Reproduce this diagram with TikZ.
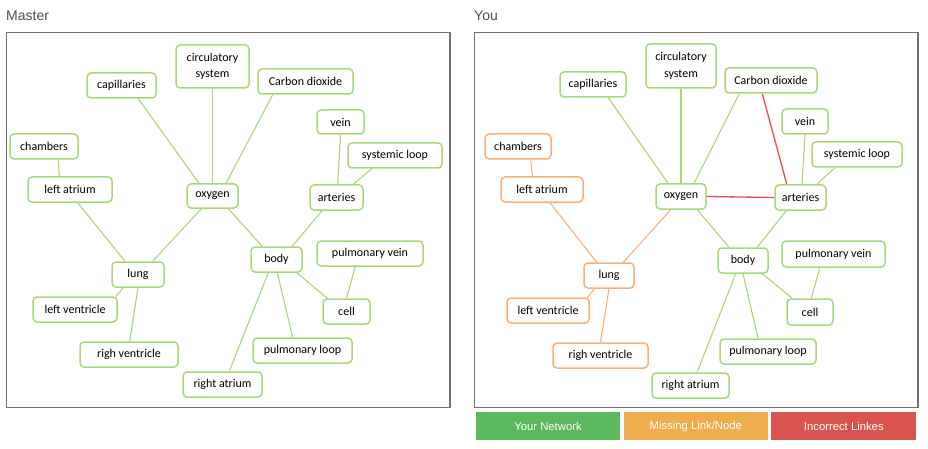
\documentclass[tikz,border=0pt]{standalone}
\usepackage{fontspec}
\setmainfont{Liberation Sans}
\newfontfamily\carl{Carlito}
\definecolor{ngreen}{HTML}{A5D978}
\definecolor{norange}{HTML}{F8B07A}
\definecolor{nred}{HTML}{EE4A4A}
\definecolor{frame}{HTML}{707070}
\definecolor{ttl}{HTML}{505050}
\definecolor{bgreen}{HTML}{5CB85C}
\definecolor{borange}{HTML}{F0AD4E}
\definecolor{bred}{HTML}{D9534F}
\tikzset{
  nd/.style={draw=ngreen, line width=1.5pt, rounded corners=4pt, fill=white,
    font=\carl\fontsize{12}{16.5}\selectfont, inner sep=0pt, align=center,
    minimum height=25pt, text=black},
  ndo/.style={nd, draw=norange},
  eg/.style={draw=ngreen, line width=1.1pt},
  eo/.style={draw=norange, line width=1.1pt},
  er/.style={draw=nred, line width=1.3pt},
  panel/.style={draw=frame, line width=1.2pt},
  ttlstyle/.style={font=\fontsize{14}{16}\selectfont, text=ttl, anchor=base west, inner sep=0pt},
  btn/.style={draw=none, text=white, font=\fontsize{11.3}{13}\selectfont, inner sep=0pt,
    minimum height=27.7pt}
}
\begin{document}
\begin{tikzpicture}[x=1pt,y=-1pt]
\useasboundingbox[fill=white] (0,0) rectangle (928,449);
% titles
\node[ttlstyle] (tmaster) at (6,21) {Master};
\node[ttlstyle] (tyou) at (474,21) {You};
% panels
\draw[panel] (6.3,32.5) rectangle (450,407.3);
\draw[panel] (474.3,32.7) rectangle (918,407.3);

% ---------- Master ----------
\node[nd,minimum width=69pt] (Lcap) at (121.5,85.5) {capillaries};
\node[nd,minimum width=73pt,minimum height=43pt] (Lcirc) at (212.5,66.5) {circulatory\\system};
\node[nd,minimum width=95pt] (Lco2) at (305.5,81.5) {Carbon dioxide};
\node[nd,minimum width=47pt,minimum height=24pt] (Lvein) at (340.5,122) {vein};
\node[nd,minimum width=94pt] (Lsys) at (395,155.5) {systemic loop};
\node[nd,minimum width=68pt] (Lcham) at (44,146.5) {chambers};
\node[nd,minimum width=84pt] (Llatr) at (70,189.5) {left atrium};
\node[nd,minimum width=51pt,minimum height=24pt] (Loxy) at (212.5,196) {oxygen};
\node[nd,minimum width=53pt] (Lart) at (336.5,197.5) {arteries};
\node[nd,minimum width=51pt] (Lbody) at (276.5,259.5) {body};
\node[nd,minimum width=106pt] (Lpv) at (370,253.5) {pulmonary vein};
\node[nd,minimum width=52pt] (Llung) at (138,274.5) {lung};
\node[nd,minimum width=84pt] (Llv) at (75,309.5) {left ventricle};
\node[nd,minimum width=47pt] (Lcell) at (346.5,311.5) {cell};
\node[nd,minimum width=98pt] (Lrv) at (129,354.5) {righ ventricle};
\node[nd,minimum width=99pt] (Lpl) at (302.5,350.5) {pulmonary loop};
\node[nd,minimum width=79pt] (Lra) at (222.5,384.5) {right atrium};

\draw[eg] ([xshift=16.8pt]Lcap.south) -- ([xshift=-13.5pt]Loxy.north);
\draw[eg] (Lcirc.south) -- (Loxy.north);
\draw[eg] ([xshift=-32.8pt]Lco2.south) -- ([xshift=13.5pt]Loxy.north);
\draw[eg] (Lvein.south) -- ([xshift=1.2pt]Lart.north);
\draw[eg] ([xshift=-23.3pt]Lsys.south) -- ([xshift=16.8pt]Lart.north);
\draw[eg] ([xshift=14.3pt]Lcham.south) -- ([xshift=-10.7pt]Llatr.north);
\draw[eg] ([xshift=7.7pt]Llatr.south) -- ([xshift=-13pt]Llung.north);
\draw[eg] ([xshift=-11.2pt]Loxy.south) -- ([xshift=14.7pt]Llung.north);
\draw[eg] ([xshift=15.8pt]Loxy.south) -- ([xshift=-14.2pt]Lbody.north);
\draw[eg] ([xshift=-14.5pt]Lart.south) -- ([xshift=15.8pt]Lbody.north);
\draw[eg] ([xshift=-14.7pt]Llung.south) -- ([xshift=41pt]Llv.north);
\draw[eg] (Llung.south) -- ([xshift=0.7pt]Lrv.north);
\draw[eg] ([xshift=-8.2pt]Lbody.south) -- ([xshift=6.8pt]Lra.north);
\draw[eg] ([xshift=0.8pt]Lbody.south) -- ([xshift=-9.8pt]Lpl.north);
\draw[eg] ([xshift=20.2pt]Lbody.south) -- ([xshift=-19.2pt]Lcell.north);
\draw[eg] ([xshift=-14.7pt]Lpv.south) -- (Lcell.north);

% ---------- You ----------
\node[nd,minimum width=66pt] (Rcap) at (593,84.5) {capillaries};
\node[nd,minimum width=70pt,minimum height=44pt] (Rcirc) at (681,66) {circulatory\\system};
\node[nd,minimum width=92pt] (Rco2) at (771,80.5) {Carbon dioxide};
\node[nd,minimum width=46pt] (Rvein) at (805,121.5) {vein};
\node[nd,minimum width=90pt] (Rsys) at (857,154.5) {systemic loop};
\node[ndo,minimum width=66pt] (Rcham) at (518,146.5) {chambers};
\node[ndo,minimum width=82pt] (Rlatr) at (542,189.5) {left atrium};
\node[nd,minimum width=50pt] (Roxy) at (681,196.5) {oxygen};
\node[nd,minimum width=51pt] (Rart) at (800.5,197.5) {arteries};
\node[nd,minimum width=50pt] (Rbody) at (743,260.5) {body};
\node[nd,minimum width=103pt,minimum height=26pt] (Rpv) at (833.5,254) {pulmonary vein};
\node[ndo,minimum width=50pt] (Rlung) at (609,275.5) {lung};
\node[ndo,minimum width=82pt] (Rlv) at (548,310.5) {left ventricle};
\node[nd,minimum width=46pt,minimum height=26pt] (Rcell) at (810,312) {cell};
\node[ndo,minimum width=95pt] (Rrv) at (600.5,355.5) {righ ventricle};
\node[nd,minimum width=96pt] (Rpl) at (768,351.5) {pulmonary loop};
\node[nd,minimum width=77pt] (Rra) at (690.5,385.5) {right atrium};

\draw[eg] ([xshift=15.3pt]Rcap.south) -- ([xshift=-13pt]Roxy.north);
\draw[eg] (Rcirc.south) -- (Roxy.north);
\draw[eg] ([xshift=-31.7pt]Rco2.south) -- ([xshift=13pt]Roxy.north);
\draw[er] ([xshift=-8.7pt]Rco2.south) -- ([xshift=-13.7pt]Rart.north);
\draw[er] (Roxy.east) -- (Rart.west);
\draw[eg] (Rvein.south) -- ([xshift=1.5pt]Rart.north);
\draw[eg] ([xshift=-22pt]Rsys.south) -- ([xshift=16.3pt]Rart.north);
\draw[eo] ([xshift=12.7pt]Rcham.south) -- ([xshift=-9.7pt]Rlatr.north);
\draw[eo] ([xshift=8pt]Rlatr.south) -- ([xshift=-12.3pt]Rlung.north);
\draw[eo] ([xshift=-10.3pt]Roxy.south) -- ([xshift=14.3pt]Rlung.north);
\draw[eg] ([xshift=16.3pt]Roxy.south) -- ([xshift=-14pt]Rbody.north);
\draw[eg] ([xshift=-14.3pt]Rart.south) -- ([xshift=14.3pt]Rbody.north);
\draw[eo] ([xshift=-14.3pt]Rlung.south) -- ([xshift=39.3pt]Rlv.north);
\draw[eo] (Rlung.south) -- (Rrv.north);
\draw[eg] ([xshift=-7.3pt]Rbody.south) -- ([xshift=6.7pt]Rra.north);
\draw[eg] (Rbody.south) -- ([xshift=-10pt]Rpl.north);
\draw[eg] ([xshift=19.3pt]Rbody.south) -- ([xshift=-17.7pt]Rcell.north);
\draw[eg] ([xshift=-13.7pt]Rpv.south) -- ([xshift=1.3pt]Rcell.north);

% ---------- buttons ----------
\node[btn,fill=bgreen,minimum width=144.6pt] (b1) at (548,426.2) {Your Network};
\node[btn,fill=borange,minimum width=144.3pt] (b2) at (695.8,426.2) {Missing Link/Node};
\node[btn,fill=bred,minimum width=145pt] (b3) at (843.8,426.2) {Incorrect Linkes};
\end{tikzpicture}
\end{document}
